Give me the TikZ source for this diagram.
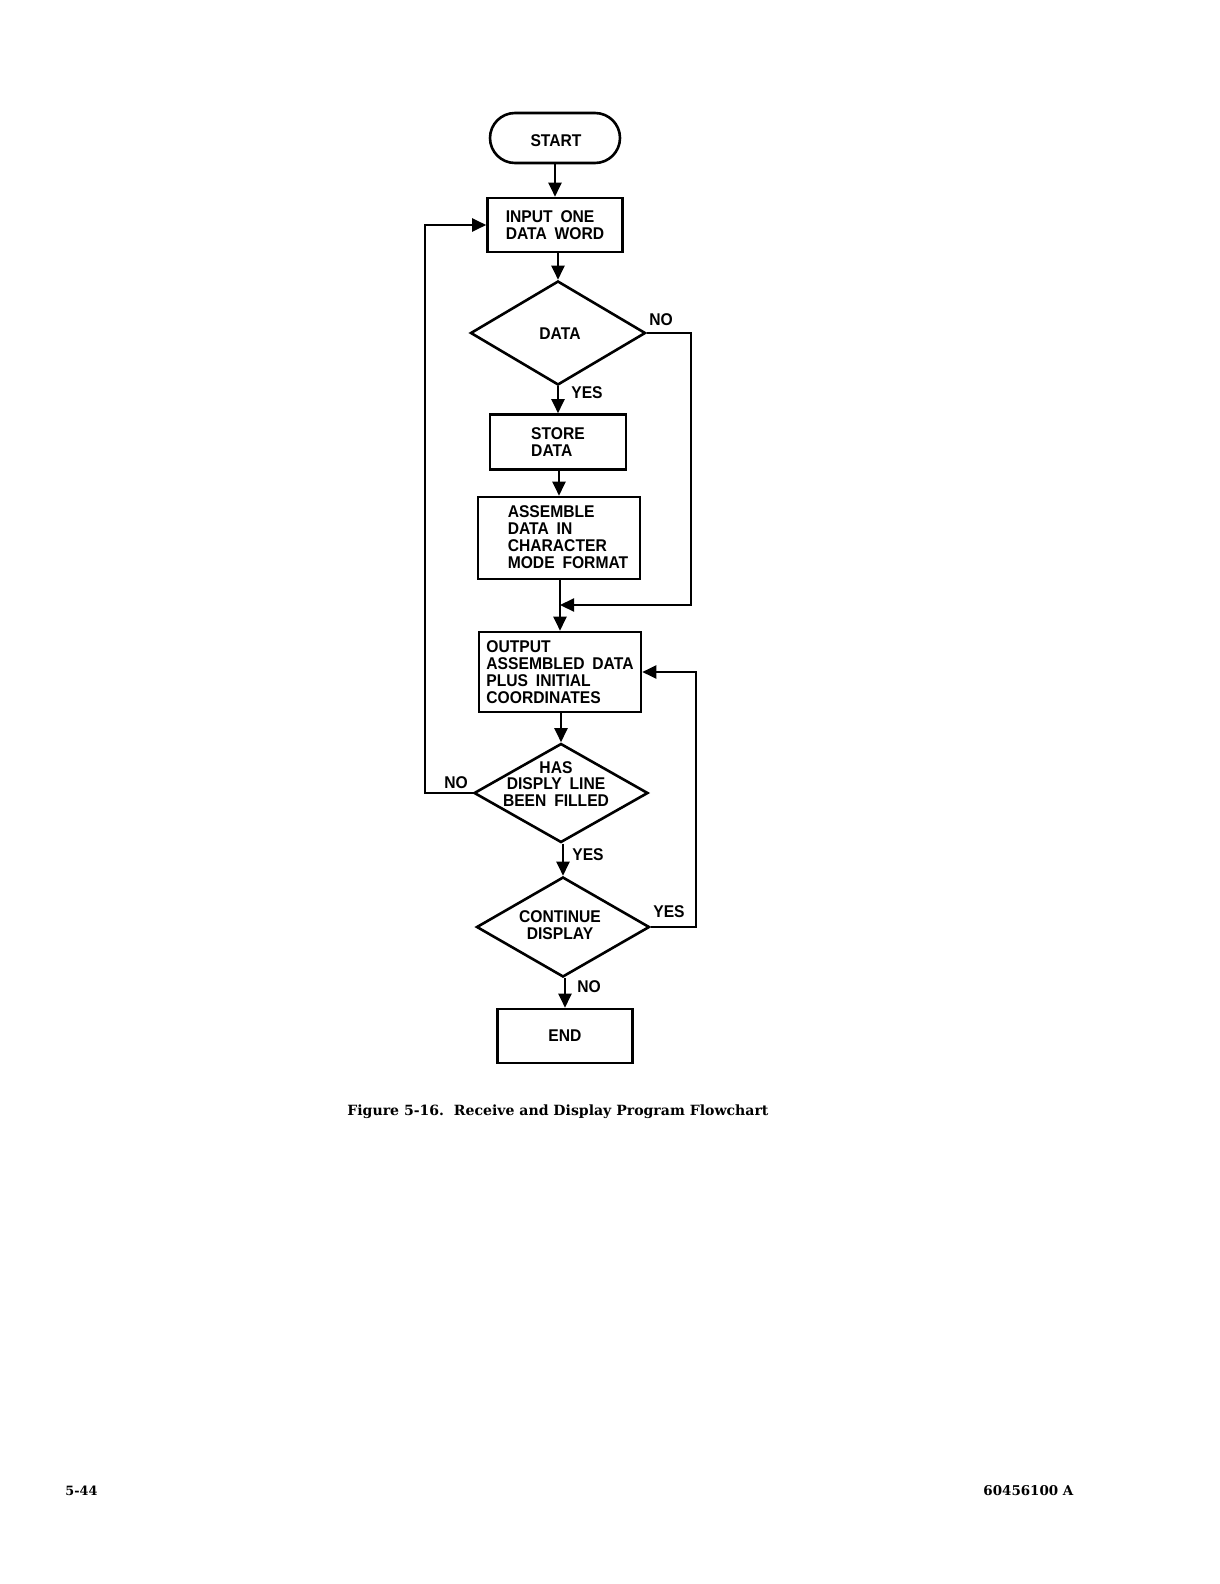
\documentclass[tikz,border=0pt]{standalone}
\usepackage{fontspec}
\usetikzlibrary{arrows.meta,shapes.geometric}
\newfontfamily\labfont{Liberation Sans}[FakeStretch=0.92,WordSpace=1.8]
\newfontfamily\capfont{DejaVu Serif}
\newcommand\flab{\labfont\bfseries\fontsize{8.5}{8.4}\selectfont}
\newcommand\fcap{\capfont\bfseries\fontsize{7}{8}\selectfont}
\tikzset{
  base/.style={draw, line width=1.3pt, font=\flab, inner sep=0pt},
  procbox/.style={base, rectangle, align=left},
  termbox/.style={base, rectangle, rounded corners=12.5pt, minimum width=65pt, minimum height=25pt},
  decis/.style={base, diamond},
  txt/.style={font=\flab, inner sep=0pt},
  arr/.style={line width=1.1pt, -{Triangle[length=7pt,width=6.5pt]}},
  capt/.style={inner sep=0pt, anchor=base west}
}
\begin{document}
\begin{tikzpicture}[x=0.5pt,y=-0.5pt]
\useasboundingbox (0,0) rectangle (1220,1584);
% nodes
\node[termbox] (start) at (555,138) {};
\node[txt] (startt) at (556,141) {START};
\node[procbox, minimum width=67.5pt, minimum height=27pt] (input) at (555,225) {INPUT ONE\\DATA WORD};
\node[decis, minimum width=87.5pt, minimum height=52pt] (data) at (558,333) {};
\node[txt] (datat) at (560,334) {DATA};
\node[procbox, minimum width=68pt, minimum height=27.5pt] (store) at (558,442) {STORE\\DATA};
\node[procbox, minimum width=81pt, minimum height=41pt] (asm) at (559,538) {};
\node[txt, align=left] (asmt) at (568,537) {ASSEMBLE\\DATA IN\\CHARACTER\\MODE FORMAT};
\node[procbox, minimum width=81pt, minimum height=40pt] (out) at (560,672) {OUTPUT\\ASSEMBLED DATA\\PLUS INITIAL\\COORDINATES};
\node[decis, minimum width=87pt, minimum height=49.5pt] (has) at (561,793) {};
\node[txt, align=center] (hast) at (556,784) {HAS\\DISPLY LINE\\BEEN FILLED};
\node[decis, minimum width=86.5pt, minimum height=50pt] (cont) at (563,927) {};
\node[txt, align=center] (contt) at (560,925) {CONTINUE\\DISPLAY};
\node[procbox, minimum width=67.5pt, minimum height=27pt] (endn) at (565,1036) {END};
% helper coordinates
\coordinate (j) at (560,605);
\coordinate (r1) at (691,333);
\coordinate (l1) at (425,793);
\coordinate (r2) at (696,927);
% main flow
\draw[arr] (input.north |- start.south) -- (input.north);
\draw[arr] (data.north |- input.south) -- (data.north);
\draw[arr] (store.north |- data.south) -- (store.north);
\draw[arr] (asm.north |- store.south) -- (asm.north);
\draw[arr] (out.north |- asm.south) -- (out.north);
\draw[arr] (has.north |- out.south) -- (has.north);
\draw[arr] (cont.north |- has.south) -- (cont.north);
\draw[arr] (endn.north |- cont.south) -- (endn.north);
% loops
\draw[arr] (data.east) -- (r1) |- (j);
\draw[arr] (has.west) -- (l1) |- (input.west);
\draw[arr] (cont.east) -- (r2) |- (out.east);
% branch labels
\node[txt] (lno1) at (661,320) {NO};
\node[txt] (lyes1) at (587,393) {YES};
\node[txt] (lno2) at (456,783) {NO};
\node[txt] (lyes2) at (588,855) {YES};
\node[txt] (lyes3) at (669,912) {YES};
\node[txt] (lno3) at (589,987) {NO};
% caption and page marks
\node[capt] (cap) at (347,1115) {\resizebox{210.5pt}{!}{\fcap Figure 5-16.\ \ Receive and Display Program Flowchart}};
\node[capt] (pg) at (65,1495) {\resizebox{16pt}{!}{\fcap 5-44}};
\node[capt] (doc) at (983,1495) {\resizebox{45pt}{!}{\fcap 60456100 A}};
\end{tikzpicture}
\end{document}
